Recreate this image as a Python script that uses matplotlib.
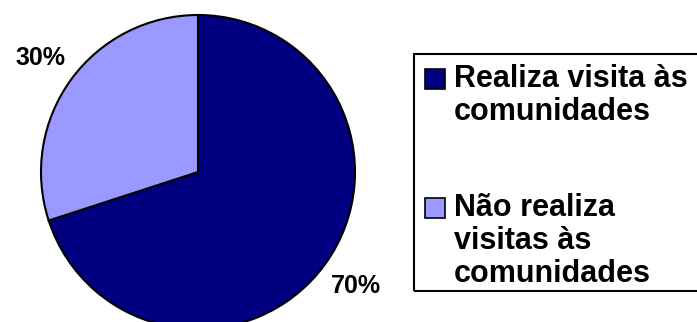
import matplotlib.pyplot as plt
from matplotlib.patches import Rectangle

plt.rcParams['font.family'] = ['Liberation Sans', 'DejaVu Sans']

# data
labels = ['Realiza visita às\ncomunidades', 'Não realiza\nvisitas às\ncomunidades']
values = [70, 30]
colors = ['#000080', '#9999FF']

W, H = 697, 322
fig = plt.figure(figsize=(W / 100, H / 100), dpi=100)

# pie axes, centre (198,172) px from top, radius ~157 px
cx, cy, r = 198, 172, 157
ax = fig.add_axes([(cx - r) / W, (H - cy - r) / H, 2 * r / W, 2 * r / H])
wedges, texts, autotexts = ax.pie(values, colors=colors, startangle=90, counterclock=False,
                                  autopct='%1.0f%%', pctdistance=1.24, radius=1,
                                  wedgeprops=dict(edgecolor='black', linewidth=1.5))
for w in wedges:
    w.set_clip_on(False)
for t in autotexts:
    t.set_fontsize(18)
    t.set_fontweight('bold')
ax.set_xlim(-1, 1)
ax.set_ylim(-1, 1)
ax.axis('off')

# legend drawn by hand so the boxes sit at the first line of each label
def fx(px):
    return px / W

def fy(py):
    return (H - py) / H

fig.patches.append(Rectangle((fx(414), fy(291)), fx(720) - fx(414), fy(54) - fy(291),
                             transform=fig.transFigure, fill=False, edgecolor='black',
                             linewidth=1.5))
tops = [69, 198]
for lab, col, top in zip(labels, colors, tops):
    fig.patches.append(Rectangle((fx(425), fy(top + 20)), fx(445) - fx(425), fy(top) - fy(top + 20),
                                 transform=fig.transFigure, facecolor=col, edgecolor='black',
                                 linewidth=1.2))
    fig.text(fx(454), fy(top - 5), lab, fontsize=22, fontweight='bold',
             va='top', ha='left', linespacing=1.12)

fig.savefig('out.png', dpi=100)
